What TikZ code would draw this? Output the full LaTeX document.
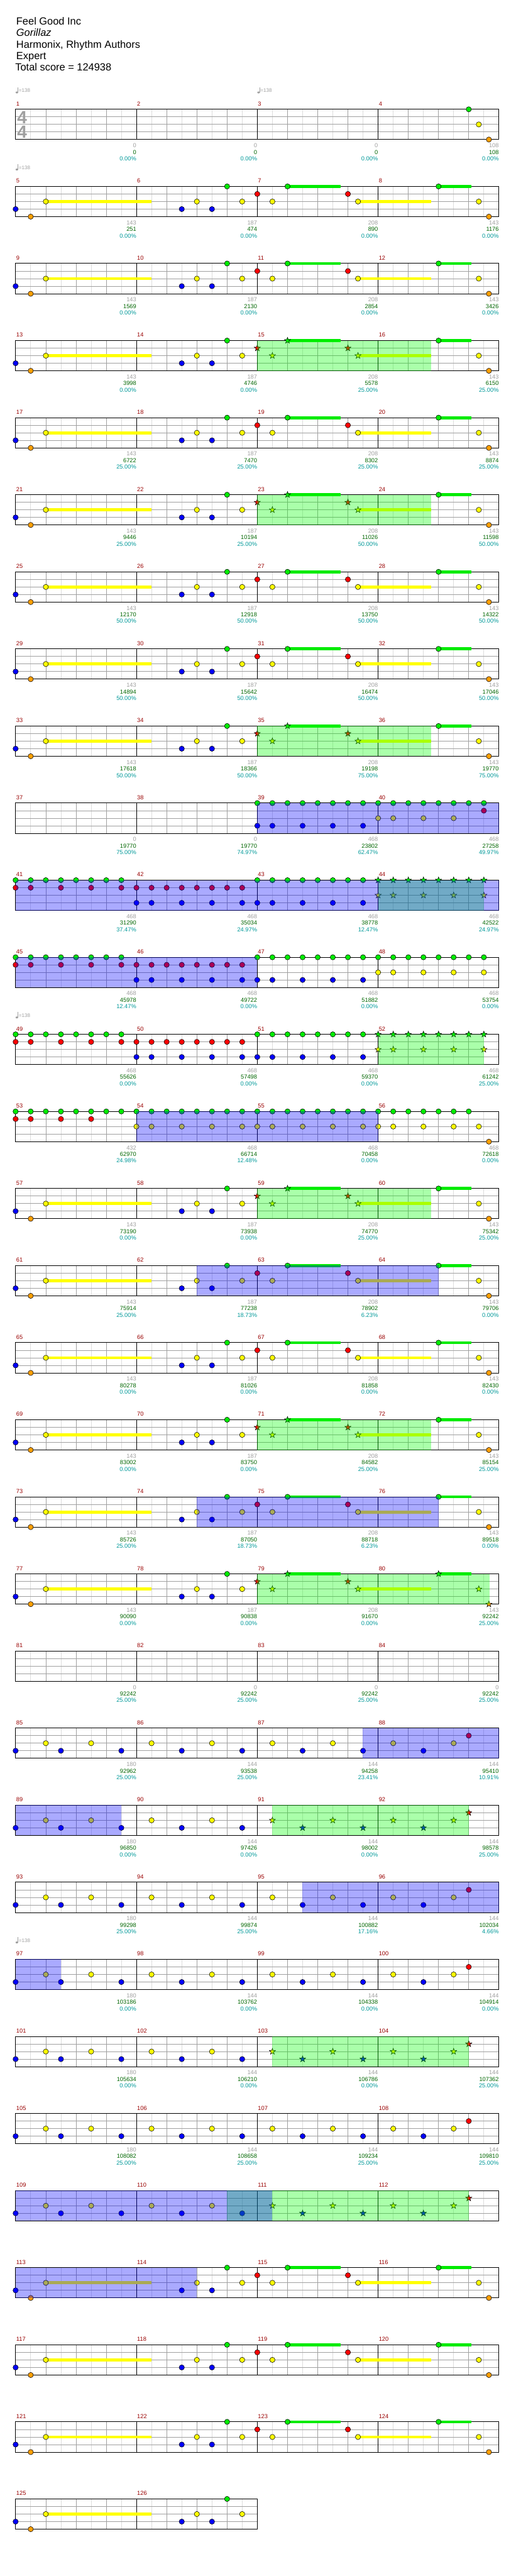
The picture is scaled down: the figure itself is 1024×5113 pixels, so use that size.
\documentclass[tikz,border=0pt]{standalone}
\usepackage{fontspec}
\setmainfont{Liberation Sans}

\definecolor{carril0}{RGB}{0,235,0}
\definecolor{carril1}{RGB}{255,0,0}
\definecolor{carril2}{RGB}{255,255,0}
\definecolor{carril3}{RGB}{0,0,255}
\definecolor{carril4}{RGB}{255,160,0}
\definecolor{rejillasuave}{RGB}{221,221,221}
\definecolor{rejilla}{RGB}{160,160,160}
\definecolor{compasrojo}{RGB}{153,0,0}
\definecolor{cifragris}{RGB}{160,160,160}
\definecolor{cifraverde}{RGB}{0,102,0}
\definecolor{cifracian}{RGB}{0,153,153}
\definecolor{zonaverde}{RGB}{0,255,0}
\definecolor{zonaazul}{RGB}{0,0,255}

\tikzset{
  suave/.style={rejillasuave,line width=0.5pt},
  media/.style={rejilla,line width=0.5pt},
  marco/.style={black,line width=0.6pt},
  borde/.style={draw=black,line width=0.35pt},
  compas/.style={compasrojo,font=\fontsize{5.8}{6}\selectfont,anchor=west,inner sep=0pt},
  cifra/.style={font=\fontsize{5.8}{6}\selectfont,anchor=east,inner sep=0pt},
  titulo/.style={font=\fontsize{10.25}{12}\selectfont,anchor=base west,inner sep=0pt},
}

% Sin zona de estrella por defecto
\def\spa{-9}\def\spb{-9}

% Pentagrama de una fila: indice, numero de compases
\newcommand{\fila}[2]{%
  \def\filan{#1}%
  \pgfmathsetmacro{\filay}{217+153*#1}%
  \pgfmathsetmacro{\filafin}{31+240*#2}%
  \pgfmathtruncatemacro{\medios}{8*#2-1}%
  \pgfmathtruncatemacro{\tiempos}{4*#2-1}%
  \foreach \i in {1,3,...,\medios} {\draw[suave] ({31+30*\i},\filay) -- ++(0,60);}%
  \foreach \i in {1,...,\tiempos} {\draw[media] ({31+60*\i},\filay) -- ++(0,60);}%
  \foreach \j in {15,30,45} {\draw[media] (31,\filay+\j) -- (\filafin,\filay+\j);}%
  \foreach \k in {1,...,#2} {%
    \pgfmathtruncatemacro{\num}{4*#1+\k}%
    \draw[marco] ({31+240*\k},\filay) -- ++(0,60);
    \node[compas] (c\num) at ({32+240*(\k-1)},\filay-11) {\num};}%
  \draw[marco] (31,\filay) rectangle (\filafin,\filay+60);}

% Nota: carril, tiempo
\newcommand{\nota}[2]{%
  \pgfmathsetmacro{\nx}{31+60*#2}%
  \pgfmathsetmacro{\ny}{\filay+15*#1}%
  \pgfmathtruncatemacro{\esSP}{and(#2>\spa-0.01,#2<\spb+0.01)}%
  \ifnum\esSP=1
    \draw[borde,fill=carril#1] (\nx,\ny) +(90:3.2pt) -- +(126:1.3pt) -- +(162:3.2pt)
      -- +(198:1.3pt) -- +(234:3.2pt) -- +(270:1.3pt) -- +(306:3.2pt)
      -- +(342:1.3pt) -- +(18:3.2pt) -- +(54:1.3pt) -- cycle;
  \else
    \draw[borde,fill=carril#1] (\nx,\ny) circle (2.6pt);
  \fi}

% Nota larga: carril, inicio, fin
\newcommand{\sost}[3]{%
  \fill[carril#1] ({31+60*#2},\filay+15*#1-3) rectangle ({31+60*#3},\filay+15*#1+3);}

% Zona coloreada: color, inicio, fin
\newcommand{\zona}[3]{%
  \fill[#1,fill opacity=0.333] ({31+60*#2},\filay) rectangle ({31+60*#3},\filay+60);}

% Marca de tempo
\newcommand{\tempo}[1]{%
  \fill[cifragris] (#1+2.5,\filay-33.5) ellipse (1.3pt and 1pt);
  \draw[cifragris,line width=0.4pt] (#1+4.6,\filay-33.5) -- (#1+4.6,\filay-44);
  \node[cifra,cifragris,anchor=west,font=\fontsize{5}{6}\selectfont] (t\filan-#1)
    at (#1+6,\filay-37) {=138};}

% Cifras bajo cada compas
\newcommand{\cifras}[1]{%
  \foreach \ngris/\nverde/\npct [count=\k] in {#1} {%
    \node[cifra,cifragris] (g\filan-\k) at ({31+240*\k},\filay+72) {\ngris};
    \node[cifra,cifraverde] (v\filan-\k) at ({31+240*\k},\filay+85) {\nverde};
    \node[cifra,cifracian] (p\filan-\k) at ({31+240*\k},\filay+98) {\npct\%};}}

% Frase principal
\newcommand{\patronA}{%
  \sost{2}{1}{4.5}\sost{0}{9}{10.75}\sost{2}{11.333}{13.75}\sost{0}{14}{15.08}%
  \nota{3}{0}\nota{4}{0.5}\nota{2}{1}\nota{3}{5.5}\nota{2}{6}\nota{3}{6.5}%
  \nota{0}{7}\nota{2}{7.5}\nota{1}{8}\nota{2}{8.5}\nota{0}{9}\nota{1}{11}%
  \nota{2}{11.333}\nota{0}{14}\nota{2}{15.333}\nota{4}{15.667}}

% Estrofa
\newcommand{\patronB}{%
  \foreach \pos in {0,1.5,3.5,5.5,7.5,9.5,11.5,13.5} {\nota{3}{\pos}}%
  \foreach \pos in {1,2.5,4.5,6.5,8.5,10.5,12.5,14.5} {\nota{2}{\pos}}%
  \nota{1}{15}}

% Entrada de corcheas
\newcommand{\patronC}{%
  \foreach \pos in {8,8.5,...,15.5} {\nota{0}{\pos}}%
  \foreach \pos in {8,8.5,9.5,10.5,11.5} {\nota{3}{\pos}}%
  \foreach \pos in {12,12.5,13.5,14.5} {\nota{2}{\pos}}%
  \nota{1}{15.5}}

% Puente
\newcommand{\patronD}{%
  \foreach \pos in {0,0.5,...,3.5} {\nota{0}{\pos}}%
  \foreach \pos in {0,0.5,1.5,2.5,3.5,4,4.5,5,5.5,6,6.5,7,7.5} {\nota{1}{\pos}}%
  \foreach \pos in {4,4.5,5.5,6.5,7.5,8,8.5,9.5,10.5,11.5} {\nota{3}{\pos}}%
  \foreach \pos in {8,8.5,...,15.5} {\nota{0}{\pos}}%
  \foreach \pos in {12,12.5,13.5,14.5,15.5} {\nota{2}{\pos}}}

\newcommand{\patronE}{%
  \foreach \pos in {0,0.5,...,15} {\nota{0}{\pos}}%
  \foreach \pos in {0,0.5,1.5,2.5} {\nota{1}{\pos}}%
  \foreach \pos in {4,4.5,5.5,6.5,7.5,8,8.5,9.5,10.5,11.5,12,12.5,13.5,14.5,15.333} {\nota{2}{\pos}}%
  \nota{4}{15.667}}

\begin{document}
\begin{tikzpicture}[x=0.5pt,y=-0.5pt]
  \useasboundingbox (0,0) rectangle (1024,5113);
  \fill[white] (0,0) rectangle (1024,5113);

  % Cabecera
  \node[titulo] (cancion) at (32,49) {Feel Good Inc};
  \node[titulo,font=\fontsize{10.25}{12}\selectfont\itshape] (artista) at (32,72) {Gorillaz};
  \node[titulo] (autores) at (32,95) {Harmonix, Rhythm Authors};
  \node[titulo] (nivel) at (32,118) {Expert};
  \node[titulo] (total) at (30,141) {Total score = 124938};

  % Compases 1-4
  \begin{scope}
    \fila{0}{4}\tempo{31}\tempo{511}
    \node[cifragris,font=\fontsize{17.5}{18}\selectfont\bfseries,inner sep=0pt] (arriba) at (44,233) {4};
    \node[cifragris,font=\fontsize{17.5}{18}\selectfont\bfseries,inner sep=0pt] (abajo) at (44,262) {4};
    \nota{0}{15}\nota{2}{15.333}\nota{4}{15.667}
    \cifras{0/0/0.00,0/0/0.00,0/0/0.00,108/108/0.00}
  \end{scope}

  \begin{scope}
    \fila{1}{4}\tempo{31}\patronA
    \cifras{143/251/0.00,187/474/0.00,208/890/0.00,143/1176/0.00}
  \end{scope}
  \begin{scope}
    \fila{2}{4}\patronA
    \cifras{143/1569/0.00,187/2130/0.00,208/2854/0.00,143/3426/0.00}
  \end{scope}
  \begin{scope}
    \def\spa{8}\def\spb{13.75}
    \fila{3}{4}\patronA\zona{zonaverde}{8}{13.75}
    \cifras{143/3998/0.00,187/4746/0.00,208/5578/25.00,143/6150/25.00}
  \end{scope}
  \begin{scope}
    \fila{4}{4}\patronA
    \cifras{143/6722/25.00,187/7470/25.00,208/8302/25.00,143/8874/25.00}
  \end{scope}
  \begin{scope}
    \def\spa{8}\def\spb{13.75}
    \fila{5}{4}\patronA\zona{zonaverde}{8}{13.75}
    \cifras{143/9446/25.00,187/10194/25.00,208/11026/50.00,143/11598/50.00}
  \end{scope}
  \begin{scope}
    \fila{6}{4}\patronA
    \cifras{143/12170/50.00,187/12918/50.00,208/13750/50.00,143/14322/50.00}
  \end{scope}
  \begin{scope}
    \fila{7}{4}\patronA
    \cifras{143/14894/50.00,187/15642/50.00,208/16474/50.00,143/17046/50.00}
  \end{scope}
  \begin{scope}
    \def\spa{8}\def\spb{13.75}
    \fila{8}{4}\patronA\zona{zonaverde}{8}{13.75}
    \cifras{143/17618/50.00,187/18366/50.00,208/19198/75.00,143/19770/75.00}
  \end{scope}

  % Compases 37-56
  \begin{scope}
    \fila{9}{4}\patronC\zona{zonaazul}{8}{16}
    \cifras{0/19770/75.00,0/19770/74.97,468/23802/62.47,468/27258/49.97}
  \end{scope}
  \begin{scope}
    \def\spa{12}\def\spb{15.5}
    \fila{10}{4}\patronD\zona{zonaverde}{12}{15.5}\zona{zonaazul}{0}{16}
    \cifras{468/31290/37.47,468/35034/24.97,468/38778/12.47,468/42522/24.97}
  \end{scope}
  \begin{scope}
    \fila{11}{4}\patronD\zona{zonaazul}{0}{8}
    \cifras{468/45978/12.47,468/49722/0.00,468/51882/0.00,468/53754/0.00}
  \end{scope}
  \begin{scope}
    \def\spa{12}\def\spb{15.5}
    \fila{12}{4}\tempo{31}\patronD\zona{zonaverde}{12}{15.5}
    \cifras{468/55626/0.00,468/57498/0.00,468/59370/0.00,468/61242/25.00}
  \end{scope}
  \begin{scope}
    \fila{13}{4}\patronE\zona{zonaazul}{4}{12}
    \cifras{432/62970/24.98,468/66714/12.48,468/70458/0.00,468/72618/0.00}
  \end{scope}

  % Compases 57-80
  \begin{scope}
    \def\spa{8}\def\spb{13.75}
    \fila{14}{4}\patronA\zona{zonaverde}{8}{13.75}
    \cifras{143/73190/0.00,187/73938/0.00,208/74770/25.00,143/75342/25.00}
  \end{scope}
  \begin{scope}
    \fila{15}{4}\patronA\zona{zonaazul}{6}{14}
    \cifras{143/75914/25.00,187/77238/18.73,208/78902/6.23,143/79706/0.00}
  \end{scope}
  \begin{scope}
    \fila{16}{4}\patronA
    \cifras{143/80278/0.00,187/81026/0.00,208/81858/0.00,143/82430/0.00}
  \end{scope}
  \begin{scope}
    \def\spa{8}\def\spb{13.75}
    \fila{17}{4}\patronA\zona{zonaverde}{8}{13.75}
    \cifras{143/83002/0.00,187/83750/0.00,208/84582/25.00,143/85154/25.00}
  \end{scope}
  \begin{scope}
    \fila{18}{4}\patronA\zona{zonaazul}{6}{14}
    \cifras{143/85726/25.00,187/87050/18.73,208/88718/6.23,143/89518/0.00}
  \end{scope}
  \begin{scope}
    \def\spa{8}\def\spb{15.68}
    \fila{19}{4}\patronA\zona{zonaverde}{8}{15.68}
    \cifras{143/90090/0.00,187/90838/0.00,208/91670/0.00,143/92242/25.00}
  \end{scope}
  \begin{scope}
    \fila{20}{4}
    \cifras{0/92242/25.00,0/92242/25.00,0/92242/25.00,0/92242/25.00}
  \end{scope}

  % Compases 85-104
  \begin{scope}
    \fila{21}{4}\patronB\zona{zonaazul}{11.48}{16}
    \cifras{180/92962/25.00,144/93538/25.00,144/94258/23.41,144/95410/10.91}
  \end{scope}
  \begin{scope}
    \def\spa{8.5}\def\spb{15}
    \fila{22}{4}\patronB\zona{zonaverde}{8.5}{15}\zona{zonaazul}{0}{3.5}
    \cifras{180/96850/0.00,144/97426/0.00,144/98002/0.00,144/98578/25.00}
  \end{scope}
  \begin{scope}
    \fila{23}{4}\patronB\zona{zonaazul}{9.5}{16}
    \cifras{180/99298/25.00,144/99874/25.00,144/100882/17.16,144/102034/4.66}
  \end{scope}
  \begin{scope}
    \fila{24}{4}\tempo{31}\patronB\zona{zonaazul}{0}{1.5}
    \cifras{180/103186/0.00,144/103762/0.00,144/104338/0.00,144/104914/0.00}
  \end{scope}
  \begin{scope}
    \def\spa{8.5}\def\spb{15}
    \fila{25}{4}\patronB\zona{zonaverde}{8.5}{15}
    \cifras{180/105634/0.00,144/106210/0.00,144/106786/0.00,144/107362/25.00}
  \end{scope}

  % Compases 105-126
  \begin{scope}
    \fila{26}{4}\patronB
    \cifras{180/108082/25.00,144/108658/25.00,144/109234/25.00,144/109810/25.00}
  \end{scope}
  \begin{scope}
    \def\spa{8.5}\def\spb{15}
    \fila{27}{4}\patronB\zona{zonaverde}{7}{15}\zona{zonaazul}{0}{8.5}
  \end{scope}
  \begin{scope}
    \fila{28}{4}\patronA\zona{zonaazul}{0}{6}
  \end{scope}
  \begin{scope}
    \fila{29}{4}\patronA
  \end{scope}
  \begin{scope}
    \fila{30}{4}\patronA
  \end{scope}
  \begin{scope}
    \fila{31}{2}
    \sost{2}{1}{4.5}\nota{3}{0}\nota{4}{0.5}\nota{2}{1}\nota{3}{5.5}\nota{2}{6}\nota{3}{6.5}\nota{0}{7}\nota{2}{7.5}
  \end{scope}
\end{tikzpicture}
\end{document}
